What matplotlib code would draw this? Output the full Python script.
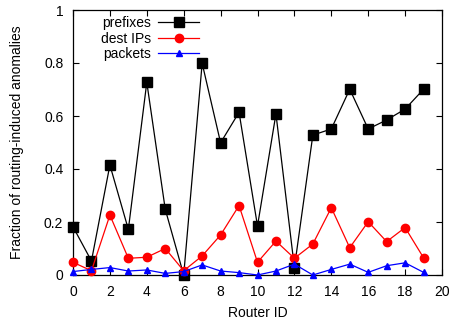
import matplotlib.pyplot as plt

plt.rcParams['font.family'] = ['Liberation Sans', 'DejaVu Sans']

router_ids = list(range(20))
prefixes = [0.182, 0.053, 0.415, 0.172, 0.727, 0.248, 0.0, 0.799, 0.499, 0.614,
            0.185, 0.608, 0.028, 0.528, 0.551, 0.701, 0.551, 0.585, 0.626, 0.701]
dest_ips = [0.048, 0.016, 0.226, 0.063, 0.067, 0.100, 0.016, 0.072, 0.151, 0.262,
            0.048, 0.128, 0.063, 0.117, 0.254, 0.103, 0.201, 0.126, 0.179, 0.065]
packets = [0.013, 0.021, 0.028, 0.015, 0.019, 0.006, 0.013, 0.038, 0.015, 0.009,
           0.000, 0.015, 0.041, 0.000, 0.021, 0.041, 0.010, 0.035, 0.046, 0.010]

fig = plt.figure(figsize=(4.52, 3.22), dpi=100)
ax = fig.add_axes([73 / 452, 47 / 322, 369 / 452, 265 / 322])

ax.plot(router_ids, prefixes, color='black', lw=0.9, marker='s', ms=6.5,
        clip_on=False, zorder=3, label='prefixes')
ax.plot(router_ids, dest_ips, color='red', lw=0.9, marker='o', ms=6,
        clip_on=False, zorder=3, label='dest IPs')
ax.plot(router_ids, packets, color='blue', lw=0.9, marker='^', ms=5,
        clip_on=False, zorder=3, label='packets')

ax.set_xlim(0, 20)
ax.set_ylim(0, 1)
ax.set_xticks(range(0, 21, 2))
ax.set_yticks([0, 0.2, 0.4, 0.6, 0.8, 1])
ax.set_yticklabels(['0', '0.2', '0.4', '0.6', '0.8', '1'])
ax.tick_params(direction='in', top=True, right=True, labelsize=10, length=4, width=0.8)
ax.tick_params(axis='y', pad=7)
ax.tick_params(axis='x', pad=7)
for s in ax.spines.values():
    s.set_linewidth(0.9)

ax.set_xlabel('Router ID', fontsize=10, labelpad=5)
ax.set_ylabel('Fraction of routing-induced anomalies', fontsize=10, labelpad=14)

ax.legend(loc='upper left', bbox_to_anchor=(0.06, 0.997), frameon=False, markerfirst=False,
          fontsize=10, handlelength=3.0, handletextpad=0.5, labelspacing=0.1,
          borderaxespad=0)

fig.savefig('out.png', dpi=100)
